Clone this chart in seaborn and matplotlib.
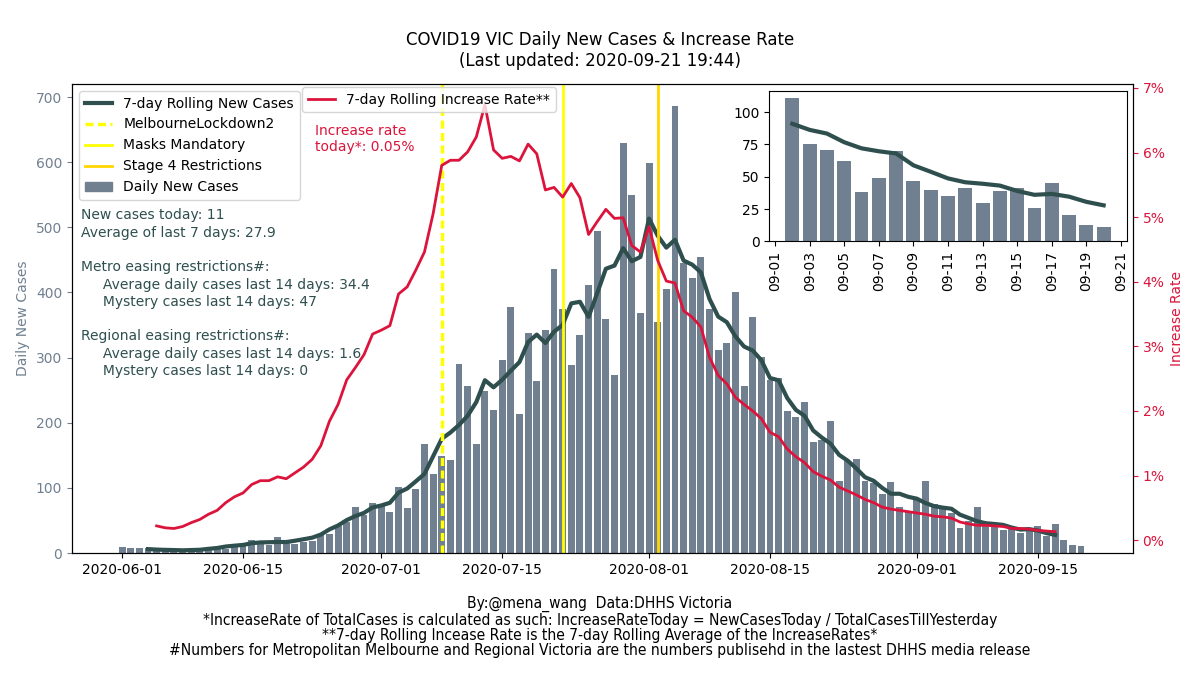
import numpy as np
import pandas as pd
import matplotlib
matplotlib.use('Agg')
import matplotlib.pyplot as plt
import matplotlib.dates as mdates
from matplotlib import font_manager as fm
from matplotlib.lines import Line2D
from matplotlib.patches import Patch
from matplotlib.ticker import FuncFormatter, MultipleLocator
import seaborn as sns

# daily new cases, 2020-06-01 .. 2020-09-20
daily_cases = [10, 7, 8, 8, 4, 3, 2, 5, 4, 6, 5, 7, 6,
               12, 14, 20, 15, 13, 25, 15, 14, 17, 19, 29, 29,
               42, 48, 70, 59, 77, 72, 63, 101, 69, 99, 168, 121, 149, 143, 290,
               257, 167, 249, 220, 296, 378, 214, 338, 264, 342, 436,
               375, 288, 335, 412, 495, 359, 274, 630, 550, 369, 599, 355, 405, 686,
               446, 422, 454, 375, 311, 322, 400, 257, 362, 301, 266, 268, 218, 209,
               232, 171, 174, 203, 110, 142, 144, 111, 108, 91, 109, 71, 65, 82,
               111, 75, 71, 62, 38, 49, 70, 47, 40, 35, 41, 30, 39, 41, 26, 45, 20, 13, 11]
start_date = '2020-06-01'

# 7-day rolling increase rate (%), 2020-06-05 .. 2020-09-17
increase_rate = [0.22, 0.19, 0.18, 0.21, 0.27, 0.32, 0.40, 0.46, 0.58, 0.67, 0.73, 0.86,
                 0.92, 0.92, 0.98, 0.95, 1.04, 1.13, 1.25, 1.46, 1.84, 2.10, 2.48, 2.67,
                 2.87, 3.19, 3.25, 3.32, 3.81, 3.92, 4.18, 4.46, 5.05, 5.80, 5.88, 5.88,
                 6.01, 6.24, 6.74, 6.04, 5.91, 5.94, 5.87, 6.13, 5.98, 5.42, 5.46, 5.31,
                 5.52, 5.30, 4.73, 4.93, 5.12, 4.98, 4.99, 4.56, 4.46, 4.85, 4.33, 4.01,
                 3.98, 3.55, 3.45, 3.30, 2.83, 2.55, 2.42, 2.21, 2.10, 2.00, 1.88, 1.67,
                 1.60, 1.41, 1.29, 1.20, 1.06, 0.99, 0.93, 0.82, 0.76, 0.70, 0.63, 0.58,
                 0.51, 0.48, 0.46, 0.44, 0.42, 0.40, 0.37, 0.36, 0.34, 0.28, 0.25, 0.23,
                 0.23, 0.22, 0.21, 0.18, 0.18, 0.17, 0.15, 0.14, 0.13]
rate_start = '2020-06-05'

events = ['MelbourneLockdown2', 'Masks Mandatory', 'Stage 4 Restrictions']
event_dates = ['2020-07-08', '2020-07-22', '2020-08-02']
event_colors = ['yellow', 'yellow', 'gold']
event_styles = [(0, (2.3, 1.3)), '-', '-']
event_widths = [2.5, 2, 2]

inset_days = 19
stats_text = ("New cases today: 11\n"
              "Average of last 7 days: 27.9\n\n"
              "Metro easing restrictions#:\n"
              "     Average daily cases last 14 days: 34.4\n"
              "     Mystery cases last 14 days: 47\n\n"
              "Regional easing restrictions#:\n"
              "     Average daily cases last 14 days: 1.6\n"
              "     Mystery cases last 14 days: 0")
footer = ("By:@mena_wang  Data:DHHS Victoria\n"
          "*IncreaseRate of TotalCases is calculated as such: IncreaseRateToday = NewCasesToday / TotalCasesTillYesterday\n"
          "**7-day Rolling Incease Rate is the 7-day Rolling Average of the IncreaseRates*\n"
          "#Numbers for Metropolitan Melbourne and Regional Victoria are the numbers publisehd in the lastest DHHS media release")

BAR = '#708090'
GREEN = '#2F4F4F'
RED = '#DC143C'

# narrow font for the footer if there is one
foot_kw = dict(family='DejaVu Sans', fontsize=10)
for f in fm.fontManager.ttflist:
    if f.name == 'DejaVu Sans' and f.stretch == 'condensed':
        foot_kw = dict(family='DejaVu Sans', fontstretch='condensed', fontsize=11.2)
        break
else:
    if any(f.name == 'Liberation Sans Narrow' for f in fm.fontManager.ttflist):
        foot_kw = dict(family='Liberation Sans Narrow', fontsize=11.8)

dates = pd.date_range(start_date, periods=len(daily_cases))
xnum = mdates.date2num(dates)
rate_x = mdates.date2num(pd.date_range(rate_start, periods=len(increase_rate)))
cases = pd.Series(daily_cases, dtype=float)
roll_center = cases.rolling(7, center=True).mean()
roll_trail = cases.rolling(7).mean()

fig = plt.figure(figsize=(12, 6.75), dpi=100)
ax = fig.add_axes([0.06, 0.1807, 0.884, 0.6948])

sns.barplot(x=xnum, y=daily_cases, native_scale=True, orient='x', color=BAR,
            saturation=1, errorbar=None, linewidth=0, ax=ax)
sns.lineplot(x=xnum, y=roll_center.values, color=GREEN, linewidth=3,
             errorbar=None, ax=ax, legend=False)
for name, d, c, ls, lw in zip(events, event_dates, event_colors, event_styles, event_widths):
    ax.axvline(mdates.date2num(pd.Timestamp(d)), color=c, linestyle=ls, linewidth=lw)

ax.set_xlim(xnum[0] - 5.8, xnum[0] + 117)
ax.set_ylim(0, 720)
ax.xaxis.set_major_locator(mdates.DayLocator(bymonthday=[1, 15]))
ax.xaxis.set_major_formatter(mdates.DateFormatter('%Y-%m-%d'))
ax.set_xlabel('')
ax.set_ylabel('Daily New Cases', color=BAR, fontsize=10)
ax.tick_params(axis='y', colors=BAR, labelsize=10)
ax.tick_params(axis='x', labelsize=10)

ax2 = ax.twinx()
sns.lineplot(x=rate_x, y=increase_rate, color=RED, linewidth=2, errorbar=None,
             ax=ax2, legend=False)
ax2.set_ylim(-0.2, 7.06)
ax2.set_xlim(xnum[0] - 5.8, xnum[0] + 117)
ax2.yaxis.set_major_locator(MultipleLocator(1))
ax2.yaxis.set_major_formatter(FuncFormatter(lambda v, p: f'{v:.0f}%'))
ax2.tick_params(axis='y', colors=RED, labelsize=10)
ax2.set_ylabel('Increase Rate', color=RED, fontsize=10)

handles = [Line2D([], [], color=GREEN, lw=3),
           Line2D([], [], color='yellow', lw=2.5, ls=(0, (2.3, 1.3))),
           Line2D([], [], color='yellow', lw=2),
           Line2D([], [], color='gold', lw=2),
           Patch(color=BAR)]
labels = ['7-day Rolling New Cases'] + events + ['Daily New Cases']
ax.legend(handles, labels, loc='upper left', fontsize=10)
ax2.legend([Line2D([], [], color=RED, lw=2)], ['7-day Rolling Increase Rate**'],
           loc='upper left', bbox_to_anchor=(0.2168, 0.9936), borderaxespad=0, fontsize=10)

ax2.text(0.229, 0.915, 'Increase rate\ntoday*: 0.05%', color=RED, fontsize=10,
         va='top', ha='left', transform=ax2.transAxes)
ax2.text(0.0085, 0.735, stats_text, color=GREEN, fontsize=10, va='top', ha='left',
         linespacing=1.3, transform=ax2.transAxes)

# inset with the last days
axin = fig.add_axes([0.641, 0.6425, 0.298, 0.223])
sns.barplot(x=xnum[-inset_days:], y=daily_cases[-inset_days:], native_scale=True, orient='x',
            color=BAR, saturation=1, errorbar=None, linewidth=0, ax=axin)
sns.lineplot(x=xnum[-inset_days:], y=roll_trail.values[-inset_days:], color=GREEN,
             linewidth=3, errorbar=None, ax=axin, legend=False)
axin.xaxis.set_major_locator(mdates.DayLocator(bymonthday=range(1, 32, 2)))
axin.xaxis.set_major_formatter(mdates.DateFormatter('%m-%d'))
axin.yaxis.set_major_locator(MultipleLocator(25))
axin.tick_params(axis='x', rotation=90, labelsize=10)
axin.tick_params(axis='y', labelsize=10)
axin.set_xlabel('')
axin.set_ylabel('')

fig.text(0.5, 0.954, 'COVID19 VIC Daily New Cases & Increase Rate\n(Last updated: 2020-09-21 19:44)',
         ha='center', va='top', fontsize=12)
fig.text(0.5, 0.117, footer, ha='center', va='top', linespacing=1.03, **foot_kw)

fig.savefig('out.png', dpi=100)
